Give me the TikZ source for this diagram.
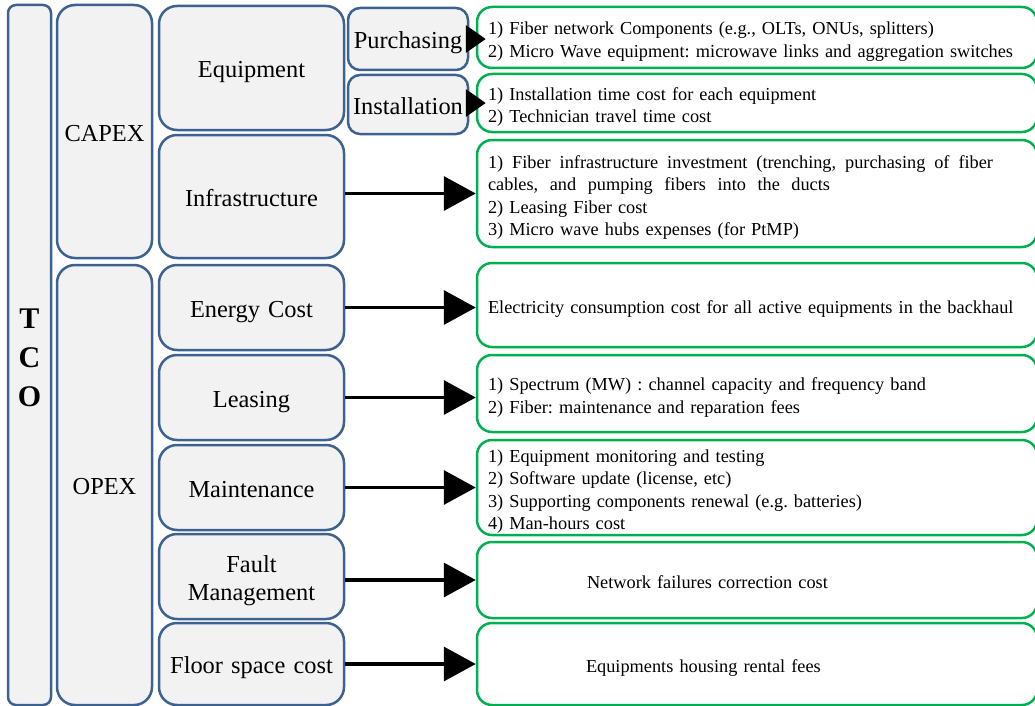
\documentclass[tikz,border=0pt]{standalone}
\usepackage{fontspec}
\setmainfont{Liberation Serif}
\usetikzlibrary{arrows.meta}
\definecolor{boxblue}{RGB}{62,98,144}
\definecolor{boxgray}{RGB}{242,242,242}
\definecolor{listgreen}{RGB}{0,176,80}
\frenchspacing
\newcommand\spreadline[2]{\leavevmode\hbox to #1{\spaceskip=.25em plus 1fil\relax #2}}
\begin{document}
\begin{tikzpicture}[x=1pt, y=-1pt,
  costbox/.style={draw=boxblue, fill=boxgray, line width=2.5pt, rounded corners=18pt,
    text width=#1, inner sep=0pt, align=center, font=\fontsize{24.4}{28.5}\selectfont,
    execute at begin node={\rule[-6pt]{0pt}{31pt}}},
  listbox/.style={draw=listgreen, line width=2.5pt, rounded corners=15pt,
    text width=538pt, inner xsep=11pt, inner ysep=0pt, align=left,
    font=\fontsize{18.3}{22.5}\selectfont, execute at begin node={\rule[-5pt]{0pt}{26pt}}},
  feed/.style={line width=3.5pt, -{Triangle[length=32pt,width=34pt]}},
  shortfeed/.style={line width=3.5pt, -{Triangle[length=20pt,width=27pt]}}]
\useasboundingbox (0,0) rectangle (1035,706);
% item lists
\node[listbox, minimum height=61pt] (Gpur) at (757,37.5) {1) Fiber network Components (e.g., OLTs, ONUs, splitters)\\2) Micro Wave equipment: microwave links and aggregation switches};
\node[listbox, minimum height=58pt] (Ginst) at (757,103) {1) Installation time cost for each equipment\\2) Technician travel time cost};
\node[listbox, minimum height=107pt] (Ginfra) at (757,193.5) {\spreadline{505pt}{1) Fiber infrastructure investment (trenching, purchasing of fiber}\\\spreadline{342pt}{cables, and pumping fibers into the ducts}\\2) Leasing Fiber cost\\3) Micro wave hubs expenses (for PtMP)};
\node[listbox, minimum height=84pt] (Genergy) at (757,305) {Electricity consumption cost for all active equipments in the backhaul};
\node[listbox, minimum height=77pt] (Glease) at (757,393.5) {1) Spectrum (MW) : channel capacity and frequency band\\2) Fiber: maintenance and reparation fees};
\node[listbox, minimum height=95pt] (Gmaint) at (757,487.5) {1) Equipment monitoring and testing\\2) Software update (license, etc)\\3) Supporting components renewal (e.g. batteries)\\4) Man-hours cost};
\node[listbox, minimum height=76pt] (Gfault) at (757,580) {\hspace*{99pt}Network failures correction cost};
\node[listbox, minimum height=82pt] (Gfloor) at (757,664) {\hspace*{98pt}Equipments housing rental fees};
% cost tree
\node[costbox=43pt, rounded corners=8pt, minimum height=700pt, font=\fontsize{30}{39}\selectfont\bfseries] (TCO) at (29.5,355) {T\\C\\O};
\node[costbox=95pt, minimum height=253pt] (CAPEX) at (104.5,131.5) {CAPEX};
\node[costbox=95pt, minimum height=440pt] (OPEX) at (104.5,485) {OPEX};
\node[costbox=185pt, minimum height=124pt] (Equip) at (251.5,68) {Equipment};
\node[costbox=185pt, minimum height=123pt] (Infra) at (251.5,196.5) {Infrastructure};
\node[costbox=185pt, minimum height=85pt] (Energy) at (251.5,307.5) {Energy Cost};
\node[costbox=185pt, minimum height=85pt] (Lease) at (251.5,397.5) {Leasing};
\node[costbox=185pt, minimum height=85pt] (Maint) at (251.5,487.5) {Maintenance};
\node[costbox=185pt, minimum height=85pt] (Fault) at (251.5,576.5) {Fault\\Management};
\node[costbox=185pt, minimum height=82pt] (Floor) at (251.5,664) {Floor space cost};
\node[costbox=120pt, rounded corners=12pt, minimum height=62pt] (Purch) at (408,39) {Purchasing};
\node[costbox=120pt, rounded corners=12pt, minimum height=59pt] (Inst) at (408,104.5) {Installation};
% arrows
\draw[shortfeed] (Purch.east) -- ([xshift=10pt]Purch.east -| Gpur.west);
\draw[shortfeed] (Inst.east |- Ginst.west) -- ([xshift=10pt]Ginst.west);
\draw[feed] (Infra.east |- Ginfra.west) -- (Ginfra.west);
\draw[feed] (Energy.east) -- (Energy.east -| Genergy.west);
\draw[feed] (Lease.east) -- (Lease.east -| Glease.west);
\draw[feed] (Maint.east) -- (Maint.east -| Gmaint.west);
\draw[feed] (Fault.east |- Gfault.west) -- (Gfault.west);
\draw[feed] (Floor.east) -- (Floor.east -| Gfloor.west);
\end{tikzpicture}
\end{document}
